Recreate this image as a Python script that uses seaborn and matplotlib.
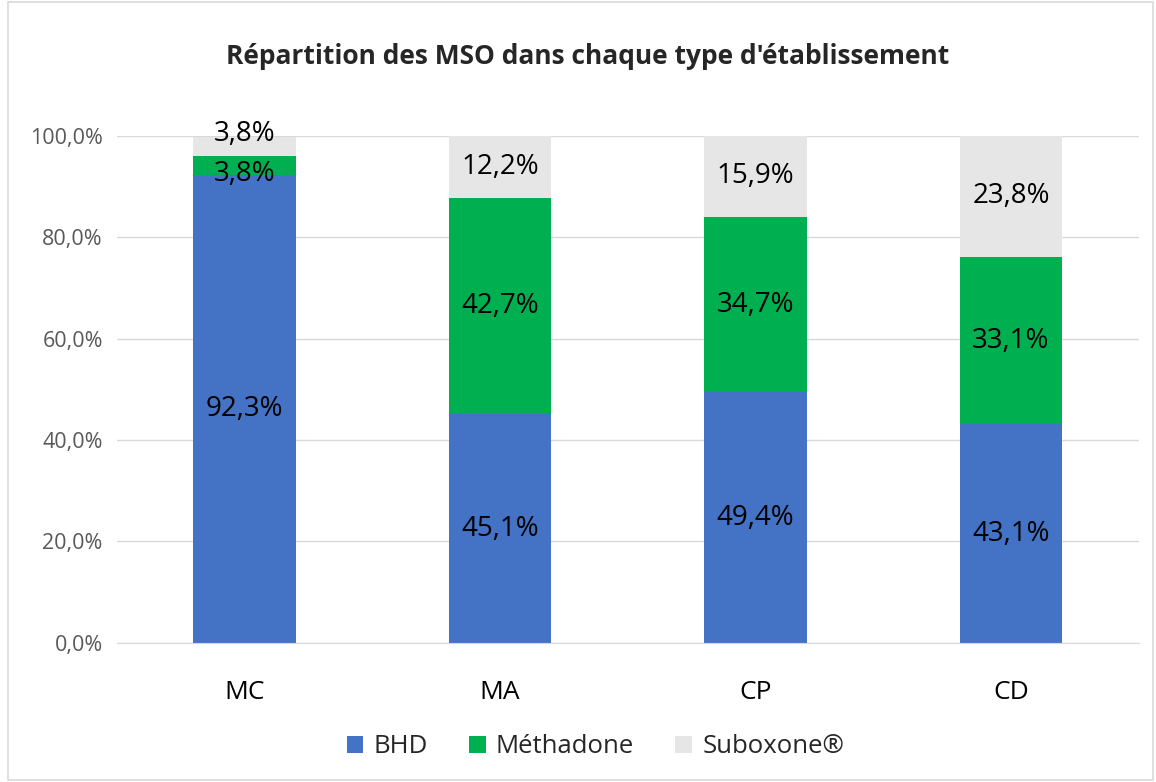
import matplotlib
matplotlib.use("Agg")
import matplotlib.pyplot as plt
import seaborn as sns
import numpy as np
from matplotlib.patches import Rectangle

categories = ["MC", "MA", "CP", "CD"]
bhd = [92.3, 45.1, 49.4, 43.1]
methadone = [3.8, 42.7, 34.7, 33.1]
suboxone = [3.8, 12.2, 15.9, 23.8]
series_names = ["BHD", "Méthadone", "Suboxone®"]
colors = ["#4472C4", "#00B050", "#E7E6E6"]

sns.set_style("white")
plt.rcParams['font.family'] = ['Open Sans', 'DejaVu Sans']

fig = plt.figure(figsize=(11.56, 7.82), dpi=100)
ax = fig.add_axes([0.101, 0.178, 0.884, 0.648])

bottom = np.zeros(len(categories))
# small segments get their label nudged so the two "3,8%" don't collide
nudges = [0, -6, 9]
for k, (name, vals, col) in enumerate(zip(series_names, [bhd, methadone, suboxone], colors)):
    sns.barplot(x=categories, y=vals, bottom=bottom, color=col, width=0.4,
                ax=ax, label=name, saturation=1, edgecolor="none", linewidth=0,
                legend=False)
    for i, v in enumerate(vals):
        dy = nudges[k] if v < 5 else 0
        ax.annotate(f"{v:.1f}%".replace(".", ","), (i, bottom[i] + v / 2),
                    xytext=(0, dy), textcoords="offset points",
                    ha="center", va="center", fontsize=20, color="black")
    bottom = bottom + np.array(vals)

ax.set_ylim(0, 100)
ax.set_xlim(-0.5, 3.5)
ax.set_yticks(np.arange(0, 101, 20))
ax.set_yticklabels([f"{t:.1f}%".replace(".", ",") for t in np.arange(0, 101, 20)],
                   fontsize=15.5, color="#595959")
ax.tick_params(axis="x", labelsize=19, colors="black", pad=27, length=0)
ax.tick_params(axis="y", length=0, pad=10)
ax.yaxis.grid(True, color="#D9D9D9", linewidth=1)
ax.set_axisbelow(True)
for s in ["top", "right", "left"]:
    ax.spines[s].set_visible(False)
ax.spines["bottom"].set_color("#D9D9D9")
if ax.get_legend() is not None:
    ax.get_legend().remove()

fig.text(0.508, 0.928, "Répartition des MSO dans chaque type d'établissement",
         ha="center", va="center", fontsize=19, fontweight="bold")

handles, labels = ax.get_legend_handles_labels()
fig.legend(handles, labels, loc="center", bbox_to_anchor=(0.515, 0.045),
           ncol=3, frameon=False, fontsize=18.5, handlelength=0.65,
           handleheight=0.65, handletextpad=0.4, columnspacing=1.6)

fig.patches.append(Rectangle((0.007, 0.003), 0.99, 0.994, transform=fig.transFigure,
                             fill=False, edgecolor="#D9D9D9", linewidth=1.2))

fig.savefig("out.png", dpi=100)
